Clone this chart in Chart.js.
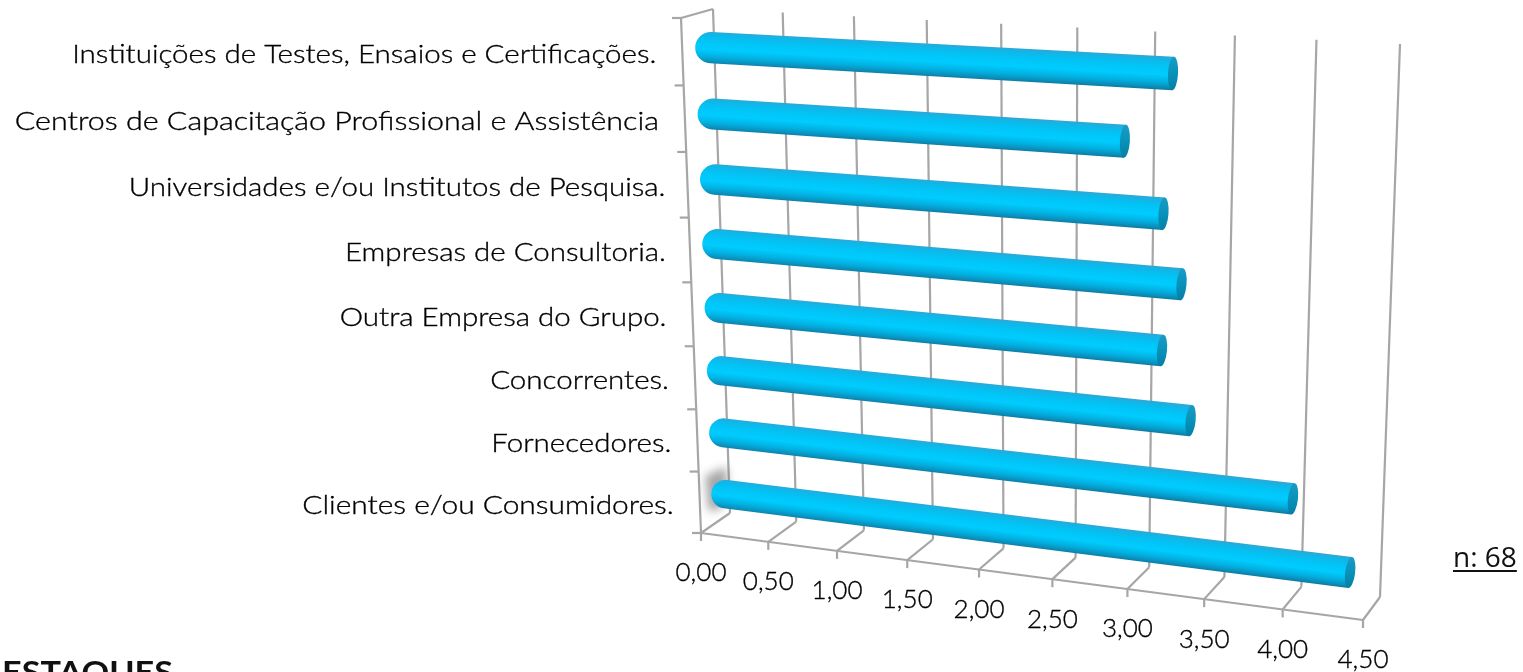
<!DOCTYPE html>
<html><head><meta charset="utf-8">
<style>
html,body{margin:0;padding:0;background:#fff;width:1523px;height:672px;overflow:hidden;position:relative}
canvas{position:absolute;left:0;top:0}
#n{position:absolute;left:1453px;top:538px;font:28px "Open Sans",sans-serif;color:#111;line-height:36px;text-decoration:underline;text-decoration-thickness:2px;text-underline-offset:3px}
#d{position:absolute;left:2px;top:654px;font:bold 30px Lato,sans-serif;color:#111;line-height:34px;white-space:nowrap;transform:scaleX(1.14);transform-origin:left top}
</style></head><body>
<canvas id="c" width="1523" height="672"></canvas>
<div id="n">n: 68</div><div id="d">ESTAQUES</div>
<script src="https://cdn.jsdelivr.net/npm/chart.js@4"></script>
<script>
const categories=["Instituições de Testes, Ensaios e Certificações.","Centros de Capacitação Profissional e Assistência","Universidades e/ou Institutos de Pesquisa.","Empresas de Consultoria.","Outra Empresa do Grupo.","Concorrentes.","Fornecedores.","Clientes e/ou Consumidores."];
const values=[3.19,2.89,3.14,3.26,3.14,3.33,3.99,4.36];
const axisMin=0, axisMax=4.5, axisStep=0.5;

// perspective frame of the 3D box (screen corners: TL, TR, BR, BL)
const BACK=[[713,9],[1400,44],[1380,597],[730,513]];
const FRONT=[[681,18],[1381,53],[1363,620],[701,533]];
const MID=BACK.map((p,i)=>[(p[0]+FRONT[i][0])/2,(p[1]+FRONT[i][1])/2]);
function homography(q){
  const [[x0,y0],[x1,y1],[x2,y2],[x3,y3]]=q;
  const dx1=x1-x2,dx2=x3-x2,sx=x0-x1+x2-x3,dy1=y1-y2,dy2=y3-y2,sy=y0-y1+y2-y3;
  const den=dx1*dy2-dx2*dy1,g=(sx*dy2-dx2*sy)/den,h=(dx1*sy-sx*dy1)/den;
  const a=x1-x0+g*x1,b=x3-x0+h*x3,d=y1-y0+g*y1,e=y3-y0+h*y3;
  return (u,v)=>{const w=g*u+h*v+1;return [(a*u+b*v+x0)/w,(d*u+e*v+y0)/w];};
}
const hBack=homography(BACK),hFront=homography(FRONT),hMid=homography(MID);
const GRID='#a6a6a6', TEXT='#000';
const FONT='Lato, sans-serif';
const LABEL_STRETCH=[1.135,1.17,1.135,1.135,1.135,1.135,1.135,1.15], LABEL_GAP=[26,26,22,24,26,26,26,26];

const box3d={id:'box3d',
  beforeDatasetsDraw(chart){
    const {ctx,chartArea:A,scales:{x:sx,y:sy}}=chart;
    const U=p=>(p-A.left)/A.width, V=p=>(p-A.top)/A.height;
    const line=(a,b,w=2.2)=>{ctx.beginPath();ctx.moveTo(a[0],a[1]);ctx.lineTo(b[0],b[1]);ctx.lineWidth=w;ctx.strokeStyle=GRID;ctx.stroke();};
    ctx.save();ctx.lineCap='butt';
    // value grid: back wall, floor and tick marks
    sx.ticks.forEach(t=>{
      const u=U(sx.getPixelForValue(t.value));
      const top=hBack(u,0),bot=hBack(u,1),fr=hFront(u,1);
      line(top,bot);line(bot,fr);line(fr,[fr[0],fr[1]+8]);
    });
    // front floor edge, left wall
    line(hFront(0,1),hFront(1,1));
    line(hFront(0,0),hFront(0,1));line(hFront(0,0),hBack(0,0));
    // category boundaries on the left wall
    const n=categories.length;
    const bands=sy.ticks.map((t,i)=>sy.getPixelForTick(i));
    const step=bands.length>1?bands[1]-bands[0]:0;
    for(let i=0;i<=n;i++){
      const p=hFront(0,V(bands[0]-step/2+i*step));
      line([p[0]-9,p[1]],p);
    }
    // soft shadow at the foot of the lowest bar
    const meta=chart.getDatasetMeta(0);
    const last=meta.data[meta.data.length-1];
    const s=hMid(U(last.base),V(last.y));
    ctx.save();ctx.filter='blur(5px)';ctx.fillStyle='rgba(110,110,110,.62)';
    ctx.beginPath();ctx.moveTo(s[0]-9,s[1]-17);ctx.lineTo(s[0]+12,s[1]-26);ctx.lineTo(s[0]+13,s[1]);ctx.lineTo(s[0]+5,s[1]+17);ctx.lineTo(s[0]-6,s[1]+18);ctx.closePath();ctx.fill();
    ctx.restore();
    // bars
    meta.data.forEach(el=>{
      const y=V(el.y),dv=V(el.y+el.height/2)-y,u0=U(el.base),u1=U(el.x);
      const a0=hMid(u0,y-dv),a1=hMid(u1,y-dv),b0=hMid(u0,y+dv),b1=hMid(u1,y+dv);
      const c0=hMid(u0,y),c1=hMid(u1,y);
      const ang=Math.atan2(c1[1]-c0[1],c1[0]-c0[0]);
      const r0=Math.hypot(a0[0]-b0[0],a0[1]-b0[1])/2,r1=Math.hypot(a1[0]-b1[0],a1[1]-b1[1])/2;
      const nx=-Math.sin(ang),ny=Math.cos(ang);
      const cs=[c0[0]+Math.cos(ang)*(r0-3),c0[1]+Math.sin(ang)*(r0-3)];
      const m=[(cs[0]+c1[0])/2,(cs[1]+c1[1])/2],rm=(r0+r1)/2;
      const g=ctx.createLinearGradient(m[0]-nx*rm,m[1]-ny*rm,m[0]+nx*rm,m[1]+ny*rm);
      g.addColorStop(0,'#2ea8d4');g.addColorStop(.1,'#10b6e8');g.addColorStop(.3,'#02c4f6');g.addColorStop(.55,'#00ccff');g.addColorStop(.78,'#02b0e0');g.addColorStop(.93,'#0a90bc');g.addColorStop(1,'#0c7ea4');
      ctx.beginPath();
      ctx.arc(cs[0],cs[1],r0,ang+Math.PI/2,ang-Math.PI/2);
      ctx.lineTo(c1[0]+nx*-r1,c1[1]+ny*-r1);
      ctx.lineTo(c1[0]+nx*r1,c1[1]+ny*r1);
      ctx.closePath();ctx.fillStyle=g;ctx.fill();
      ctx.beginPath();ctx.ellipse(c1[0],c1[1],5,r1,ang,0,Math.PI*2);
      const capG=ctx.createLinearGradient(c1[0],c1[1]-r1,c1[0],c1[1]+r1);
      capG.addColorStop(0,'#1a9cc4');capG.addColorStop(.5,'#0892ba');capG.addColorStop(1,'#067ea4');
      ctx.fillStyle=capG;ctx.fill();
    });
    // labels
    ctx.fillStyle=TEXT;ctx.strokeStyle=TEXT;ctx.lineWidth=.35;ctx.textBaseline='middle';
    ctx.font='300 26px '+FONT;ctx.textAlign='right';
    sy.ticks.forEach((t,i)=>{
      const p=hFront(0,V(sy.getPixelForTick(i)));
      ctx.save();ctx.translate(p[0]-LABEL_GAP[i],p[1]+3);ctx.scale(LABEL_STRETCH[i],1);
      ctx.fillText(t.label,0,0);ctx.strokeText(t.label,0,0);ctx.restore();
    });
    ctx.textAlign='center';
    sx.ticks.forEach(t=>{
      const p=hFront(U(sx.getPixelForValue(t.value)),1);
      ctx.fillText(t.label,p[0],p[1]+40);ctx.strokeText(t.label,p[0],p[1]+40);
    });
    ctx.restore();
    return false;
  }
};
new Chart(document.getElementById('c'),{
  type:'bar',
  data:{labels:categories,datasets:[{label:'Média',data:values,backgroundColor:'#00ccff',barPercentage:.47,categoryPercentage:1}]},
  options:{indexAxis:'y',responsive:false,animation:false,
    plugins:{legend:{display:false},tooltip:{enabled:false},title:{display:false}},
    scales:{
      x:{type:'linear',min:axisMin,max:axisMax,grid:{display:false},border:{display:false},ticks:{display:false,stepSize:axisStep,callback:v=>v.toFixed(2).replace('.',',')}},
      y:{type:'category',grid:{display:false},border:{display:false},ticks:{display:false,autoSkip:false}}
    }},
  plugins:[box3d]
});
</script>
</body></html>
